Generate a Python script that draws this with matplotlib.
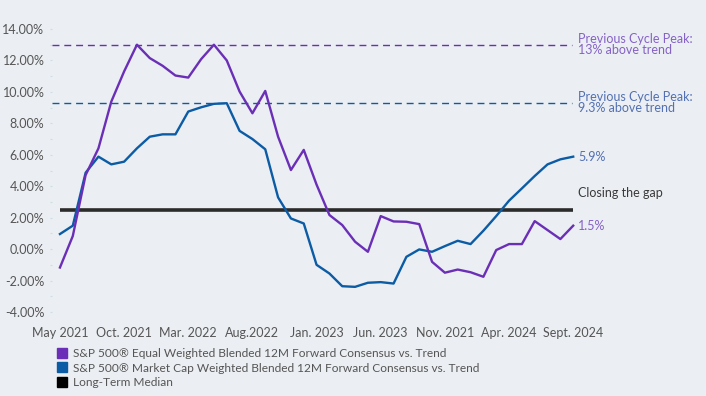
import matplotlib
matplotlib.use("Agg")
import matplotlib.pyplot as plt
from matplotlib.lines import Line2D
from matplotlib.ticker import FuncFormatter, MultipleLocator

plt.rcParams['font.family'] = ['Lato', 'DejaVu Sans']

# ---- data (monthly, May 2021 .. Sept 2024) ----
equal_weighted = [-1.17, 0.83, 4.71, 6.41, 9.38, 11.3, 13.0, 12.15, 11.66, 11.04,
                  10.91, 12.08, 13.0, 12.0, 10.02, 8.64, 10.06, 7.15, 5.03, 6.31,
                  4.1, 2.17, 1.53, 0.47, -0.17, 2.1, 1.76, 1.74, 1.59, -0.81,
                  -1.5, -1.3, -1.47, -1.76, -0.06, 0.32, 0.32, 1.78, 1.21, 0.64, 1.49]
market_cap = [0.96, 1.49, 4.86, 5.88, 5.39, 5.56, 6.41, 7.15, 7.30, 7.30,
              8.75, 9.02, 9.24, 9.28, 7.52, 7.0, 6.35, 3.29, 1.95, 1.63,
              -1.0, -1.55, -2.36, -2.4, -2.14, -2.1, -2.19, -0.49, -0.02, -0.17,
              0.19, 0.53, 0.32, 1.17, 2.1, 3.08, 3.86, 4.65, 5.39, 5.71, 5.88]
long_term_median = 2.5
peak_equal = 13.0
peak_market = 9.3
tick_labels = ["May 2021", "Oct. 2021", "Mar. 2022", "Aug.2022", "Jan. 2023",
               "Jun. 2023", "Nov. 2021", "Apr. 2024", "Sept. 2024"]
series_names = ["S&P 500® Equal Weighted Blended 12M Forward Consensus vs. Trend",
                "S&P 500® Market Cap Weighted Blended 12M Forward Consensus vs. Trend",
                "Long-Term Median"]

PURPLE = "#6a2fb6"
BLUE = "#0b5ba5"
BLACK = "#2b2b2b"
PURPLE_TXT = "#8562c6"
BLUE_TXT = "#5270b3"
TXT = "#555555"
BG = "#ebeef2"

W, H = 706, 396
fig = plt.figure(figsize=(W / 100, H / 100), dpi=100, facecolor=BG)
ax = fig.add_axes([52 / W, (H - 312) / H, (575 - 52) / W, (312 - 29) / H], facecolor=BG)

n = len(equal_weighted)
xs = list(range(n))
ax.set_xlim(-0.62, 40.14)
ax.set_ylim(-4, 14)

ax.axhline(peak_equal, xmin=0, xmax=(39.9 + 0.62) / 40.76, color=PURPLE, lw=1.0, dashes=(5, 3.5))
ax.axhline(peak_market, xmin=0, xmax=(39.9 + 0.62) / 40.76, color=BLUE, lw=1.0, dashes=(5, 3.5))
ax.plot([0, n - 1], [long_term_median] * 2, color=BLACK, lw=2.6, solid_capstyle='butt', zorder=2)
ax.plot(xs, market_cap, color=BLUE, lw=1.7, zorder=3)
ax.plot(xs, equal_weighted, color=PURPLE, lw=1.7, zorder=4)

for s in ax.spines.values():
    s.set_visible(False)

ax.set_xticks(range(0, n, 5))
ax.set_xticklabels(tick_labels)
ax.yaxis.set_major_locator(MultipleLocator(2))
ax.yaxis.set_minor_locator(MultipleLocator(1))
ax.yaxis.set_major_formatter(FuncFormatter(lambda v, p: f"{v:.2f}%"))
ax.tick_params(axis='x', length=0, pad=11, labelsize=9, labelcolor=TXT)
ax.tick_params(axis='y', which='both', length=1.5, width=0.8, color="#c9dfe6", pad=4,
               labelsize=9, labelcolor=TXT)

tx = n - 1 + 0.4
ax.text(tx, peak_equal, "Previous Cycle Peak:\n13% above trend", color=PURPLE_TXT,
        fontsize=9, va='center', ha='left', linespacing=0.9, clip_on=False)
ax.text(tx, peak_market, "Previous Cycle Peak:\n9.3% above trend", color=BLUE_TXT,
        fontsize=9, va='center', ha='left', linespacing=0.9, clip_on=False)
ax.text(tx, market_cap[-1], f"{market_cap[-1]:.1f}%", color=BLUE_TXT,
        fontsize=9, va='center', ha='left', clip_on=False)
ax.text(tx, equal_weighted[-1], f"{equal_weighted[-1]:.1f}%", color=PURPLE_TXT,
        fontsize=9, va='center', ha='left', clip_on=False)
ax.text(tx, 3.57, "Closing the gap", color="#3a3a3a",
        fontsize=9, va='center', ha='left', clip_on=False)

handles = [Line2D([], [], marker='s', ls='none', color=c, markersize=7.5)
           for c in (PURPLE, BLUE, "#000000")]
fig.legend(handles, series_names, loc='upper left', bbox_to_anchor=(57 / W, 1 - 348 / H),
           frameon=False, fontsize=8.6, labelcolor=TXT, handlelength=0.8, handletextpad=0.55,
           labelspacing=0.3, borderpad=0, borderaxespad=0)

fig.savefig("out.png", dpi=100, facecolor=BG)
